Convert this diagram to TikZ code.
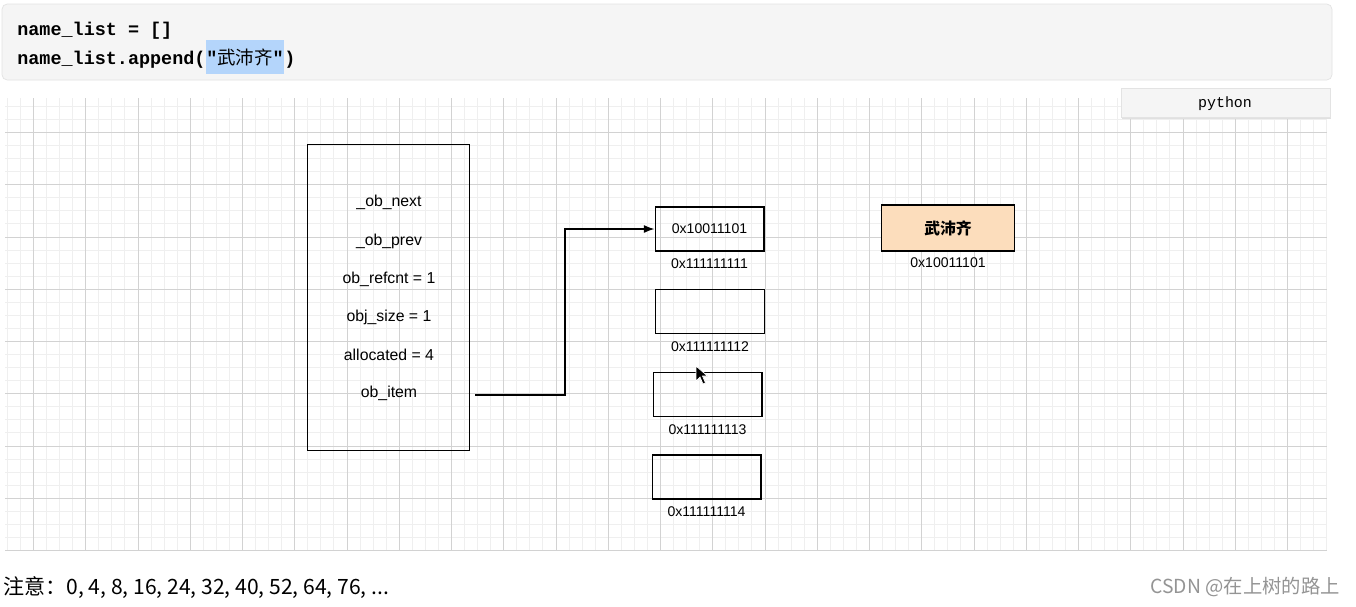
\documentclass[tikz,border=0pt]{standalone}
\usepackage{fontspec}
\setmainfont{Liberation Sans}
\setmonofont{Liberation Mono}
\newfontfamily\cjk{Noto Sans CJK SC}
\usetikzlibrary{positioning,arrows.meta}

\definecolor{codebg}{HTML}{F5F5F5}
\definecolor{codeline}{HTML}{E3E3E3}
\definecolor{hilite}{HTML}{B4D5FB}
\definecolor{peach}{HTML}{FCDDBC}
\definecolor{gridminor}{HTML}{EFEFEF}
\definecolor{gridmajor}{HTML}{D2D2D2}

\def\mn{13.0625}

\begin{document}
\begin{tikzpicture}[x=0.02cm,y=-0.02cm,
  memory box/.style={draw=black,thick,minimum width=61.8pt,minimum height=24.9pt,inner sep=0pt},
  addr/.style={font=\fontsize{8}{9}\selectfont,inner sep=0pt},
  field/.style={font=\fontsize{9}{10}\selectfont,inner sep=0pt},
  code text/.style={font=\ttfamily\bfseries\fontsize{10.5}{12}\selectfont,inner sep=0pt,anchor=base west},
  grid line/.style={line width=0.567pt}]
\useasboundingbox (0,0) rectangle (1356,606);
\fill[white] (0,0) rectangle (1356,606);

% grid (snapped to whole pixels)
\foreach \i in {0,...,101} \draw[gridminor,grid line] ({round(6.9+\mn*\i)+0.5},98) -- ({round(6.9+\mn*\i)+0.5},550);
\foreach \j in {0,...,34} \draw[gridminor,grid line] (5,{round(105.9+\mn*\j)+0.5}) -- (1327,{round(105.9+\mn*\j)+0.5});
\foreach \i in {0,...,24} \draw[gridmajor,grid line] ({round(33+4*\mn*\i)+0.5},98) -- ({round(33+4*\mn*\i)+0.5},550);
\foreach \j in {0,...,8} \draw[gridmajor,grid line] (5,{round(132+4*\mn*\j)+0.5}) -- (1327,{round(132+4*\mn*\j)+0.5});

% code cell
\draw[codeline,fill=codebg,rounded corners=3pt] (2,4) rectangle (1332,80);
\node[code text] (line1) at (17,35) {name\_list = []};
\node[code text] (line2) at (17,64) {name\_list.append(};
\node[code text,fill=hilite,inner ysep=5pt,inner xsep=0pt,right=0pt of line2.base east,anchor=base west]
  (quote) {"{\cjk\mdseries 武沛齐}"};
\node[code text,right=0pt of quote.base east,anchor=base west] (close) {)};

% language tag
\fill[black!12] (1122,90) rectangle (1331,119);
\draw[codeline,fill=codebg] (1121,88) rectangle (1330,117);
\node[font=\ttfamily\fontsize{8.5}{10}\selectfont] (lang) at (1225,104) {python};

% list object
\node[draw=black,thick,minimum width=92.4pt,minimum height=174pt,inner sep=0pt] (head) at (388.5,297.5) {};
\node[field] (next) at (389,202) {\_ob\_next};
\node[field] (prev) at (389,241) {\_ob\_prev};
\node[field] (refcnt) at (389,279) {ob\_refcnt = 1};
\node[field] (size) at (389,317) {obj\_size = 1};
\node[field] (alloc) at (389,355) {allocated = 4};
\node[field] (item) at (389,393) {ob\_item};

% item slots
\node[memory box] (slot1) at (709.5,229) {};
\node[addr] at (slot1) {0x10011101};
\node[memory box] (slot2) at (710,311.5) {};
\node[memory box] (slot3) at (707.5,394.5) {};
\node[memory box] (slot4) at (706.5,477) {};
\node[addr,below=4pt of slot1] (a1) {0x111111111};
\node[addr,below=4pt of slot2] (a2) {0x111111112};
\node[addr,below=4pt of slot3] (a3) {0x111111113};
\node[addr,below=4pt of slot4] (a4) {0x111111114};

% string object
\node[draw=black,thick,fill=peach,minimum width=76pt,minimum height=26.1pt,inner sep=0pt,
  font=\cjk\bfseries\fontsize{9}{10}\selectfont] (str) at (948,228) {武沛齐};
\node[addr,below=3pt of str] (sa) {0x10011101};

% pointer
\coordinate (from) at (475,395);
\draw[thick,-{Latex[length=6pt,width=4.5pt]}] (from) -- (565,395) |- (slot1.west);

% mouse cursor
\draw[white,fill=black,line width=0.4pt] (696,366) -- (696,381) -- (700,377) -- (703,384)
  -- (705.5,383) -- (702.5,376) -- (707.5,376) -- cycle;

% footer
\node[anchor=base west,inner sep=0pt,font=\cjk\fontsize{12}{14}\selectfont] (note) at (3,594)
  {注意：0, 4, 8, 16, 24, 32, 40, 52, 64, 76, ...};
\node[anchor=base east,inner sep=0pt,text=black!42,font=\cjk\fontsize{11}{13}\selectfont] (mark) at (1340,593)
  {CSDN @在上树的路上};
\end{tikzpicture}
\end{document}
